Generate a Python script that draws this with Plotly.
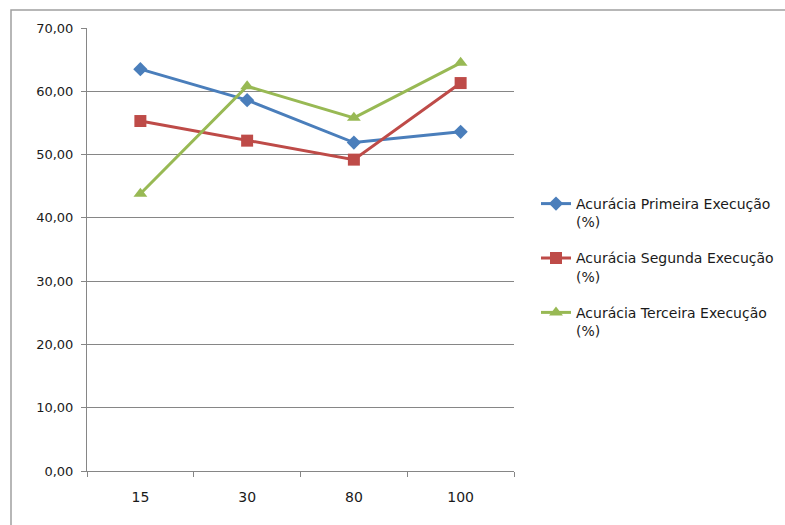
import plotly.graph_objects as go

# Tamanhos de amostra (eixo de categorias)
categorias = ["15", "30", "80", "100"]

# Acurácia (%) de cada execução
primeira = [63.5, 58.6, 51.9, 53.6]
segunda = [55.3, 52.2, 49.2, 61.3]
terceira = [43.8, 60.8, 55.8, 64.5]

nomes = [
    "Acurácia Primeira Execução<br>(%)",
    "Acurácia Segunda Execução<br>(%)",
    "Acurácia Terceira Execução<br>(%)",
]
cores = ["#4a7ebb", "#be4b48", "#98b954"]
simbolos = ["diamond", "square", "triangle-up"]
tamanhos = [11, 12, 12]

fig = go.Figure()
for i, serie in enumerate([primeira, segunda, terceira]):
    fig.add_trace(go.Scatter(
        x=categorias, y=serie, name=nomes[i], mode="lines+markers",
        legendgroup=f"g{i}",
        line=dict(color=cores[i], width=3),
        marker=dict(symbol=simbolos[i], size=tamanhos[i], color=cores[i]),
    ))

eixo = "#868686"
fig.update_layout(
    width=785, height=525,
    margin=dict(l=87, r=271, t=28, b=54, autoexpand=False),
    paper_bgcolor="white", plot_bgcolor="white",
    separators=",.",
    font=dict(family="DejaVu Sans", size=12, color="#1a1a1a"),
    showlegend=True,
    legend=dict(
        xref="container", yref="container",
        x=536 / 785, y=(525 - 188) / 525, xanchor="left", yanchor="top",
        valign="top", tracegroupgap=15,
        font=dict(family="DejaVu Sans", size=14, color="#1a1a1a"),
        itemwidth=30,
    ),
    xaxis=dict(
        type="category", range=[-0.5, 3.5], tickson="boundaries",
        showline=True, linecolor=eixo, linewidth=1,
        ticks="outside", ticklen=5, tickcolor=eixo,
        showgrid=False, zeroline=False,
        tickfont=dict(family="DejaVu Sans", size=14, color="#1a1a1a"),
        ticklabelstandoff=13,
    ),
    yaxis=dict(
        range=[0, 70], dtick=10, tickformat=".2f",
        showline=True, linecolor=eixo, linewidth=1,
        ticks="outside", ticklen=5, tickcolor=eixo,
        showgrid=True, gridcolor=eixo, gridwidth=1,
        zeroline=False,
        tickfont=dict(family="DejaVu Sans", size=13, color="#1a1a1a"),
        ticklabelstandoff=5,
    ),
)

# Moldura da área do gráfico
fig.add_shape(
    type="rect", xref="paper", yref="paper",
    x0=(11 - 87) / 427, x1=(800 - 87) / 427,
    y0=(471 - 540) / 443, y1=(471 - 10) / 443,
    line=dict(color="#a0a0a0", width=1.5), fillcolor="rgba(0,0,0,0)",
    layer="below",
)

fig.write_html("out.html")
